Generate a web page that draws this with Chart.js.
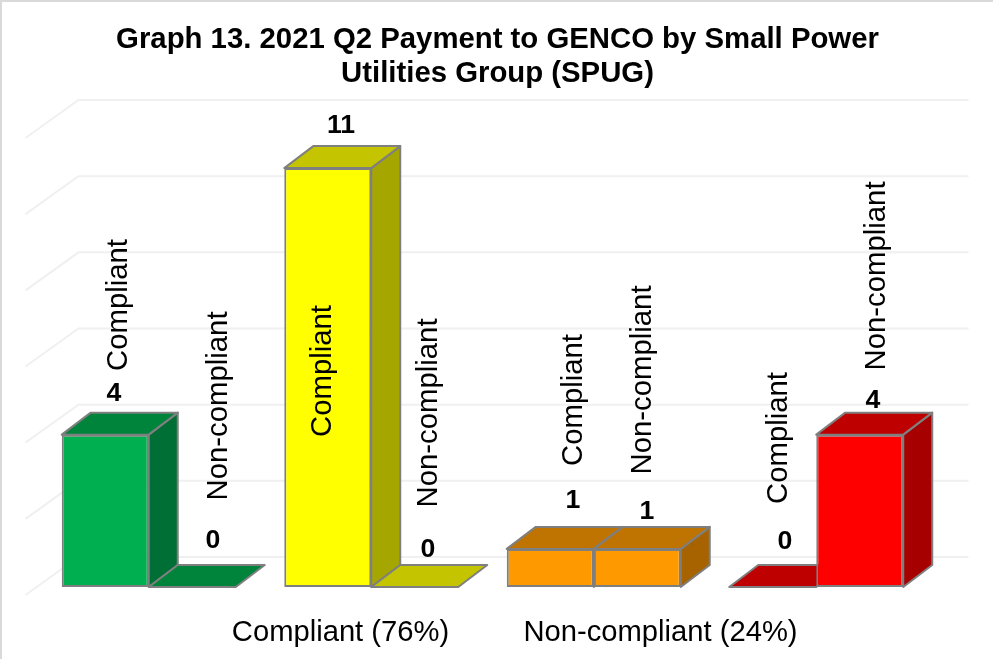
<!DOCTYPE html>
<html>
<head>
<meta charset="utf-8">
<title>Graph 13</title>
<script src="https://cdn.jsdelivr.net/npm/chart.js@4"></script>
<style>
  html, body { margin: 0; padding: 0; background: #fff; }
  canvas { display: block; }
</style>
</head>
<body>
<canvas id="myChart" width="993" height="659"></canvas>
<script>
const categories = ['Compliant paid', 'Compliant late', 'Non-compliant A', 'Non-compliant B'];
const seriesNames = ['Compliant', 'Non-compliant'];
const compliantValues = [4, 11, 1, 0];
const nonCompliantValues = [0, 0, 1, 4];
const gridTicks = [0, 2, 4, 6, 8, 10, 12];
const groupLabels = ['Compliant (76%)', 'Non-compliant (24%)'];
const titleLines = ['Graph 13. 2021 Q2 Payment to GENCO by Small Power', 'Utilities Group (SPUG)'];

// colours for each group: front, top, side
const frontColors = ['#00B050', '#FFFF00', '#FF9900', '#FF0000'];
const topColors = ['#00843C', '#C4C400', '#BF7300', '#BF0000'];
const sideColors = ['#006F35', '#A6A600', '#A66300', '#A60000'];
const edgeColor = '#7F7F7F';

// fake 3d depth of the bars and of the back wall, px
const barDepth = { x: 29, y: 22 };
const wallBack = { x: 41, y: 30 };
const wallFront = { x: 12, y: 8 };

// hand placed labels, the original has them dragged around
const valueLabelPos = [
  [[114, 394], [213, 541]],
  [[341, 126], [428, 550]],
  [[573, 501], [647, 512]],
  [[785, 542], [873, 401]]
];
const nameLabelPos = [
  [[119, 305], [219, 406]],
  [[323, 371], [429, 413]],
  [[574, 400], [643, 380]],
  [[779, 438], [877, 276]]
];
const groupLabelPos = [[340.5, 633], [660.5, 633]];
const titlePos = [[497.5, 40], [497.5, 74]];

function poly(ctx, pts, fill) {
  ctx.beginPath();
  pts.forEach((p, i) => (i ? ctx.lineTo(p[0], p[1]) : ctx.moveTo(p[0], p[1])));
  ctx.closePath();
  ctx.fillStyle = fill;
  ctx.fill();
  ctx.lineWidth = 2;
  ctx.strokeStyle = edgeColor;
  ctx.lineJoin = 'round';
  ctx.stroke();
}

const fake3d = {
  id: 'fake3d',
  beforeDraw(chart) {
    // only the top and left edge of the frame made it into the screenshot
    const ctx = chart.ctx;
    ctx.save();
    ctx.strokeStyle = '#D9D9D9';
    ctx.lineWidth = 2;
    ctx.beginPath();
    ctx.moveTo(1, chart.height);
    ctx.lineTo(1, 1);
    ctx.lineTo(chart.width, 1);
    ctx.stroke();
    ctx.restore();
  },
  beforeDatasetsDraw(chart) {
    const ctx = chart.ctx;
    const yScale = chart.scales.y;
    const area = chart.chartArea;
    ctx.save();
    // back wall lines
    ctx.strokeStyle = '#F0F0F0';
    ctx.lineWidth = 2;
    gridTicks.forEach((t) => {
      const y = yScale.getPixelForValue(t);
      ctx.beginPath();
      ctx.moveTo(area.left - wallFront.x, y + wallFront.y);
      ctx.lineTo(area.left + wallBack.x, y - wallBack.y);
      ctx.lineTo(area.right + wallBack.x, y - wallBack.y);
      ctx.stroke();
    });
    // sides and tops, left to right so the next bar covers the previous one
    categories.forEach((c, i) => {
      chart.data.datasets.forEach((ds, d) => {
        const bar = chart.getDatasetMeta(d).data[i];
        const l = bar.x - bar.width / 2;
        const r = bar.x + bar.width / 2;
        const dx = barDepth.x;
        const dy = barDepth.y;
        if (bar.base - bar.y > 0) {
          poly(ctx, [[r, bar.y], [r + dx, bar.y - dy], [r + dx, bar.base - dy], [r, bar.base]], sideColors[i]);
        }
        poly(ctx, [[l, bar.y], [l + dx, bar.y - dy], [r + dx, bar.y - dy], [r, bar.y]], topColors[i]);
      });
    });
    ctx.restore();
  },
  afterDatasetsDraw(chart) {
    const ctx = chart.ctx;
    ctx.save();
    ctx.fillStyle = '#000';
    ctx.textAlign = 'center';
    ctx.textBaseline = 'middle';
    // title is centred on the whole picture, not on the plot, so it goes here
    ctx.font = 'bold 29.33px "Liberation Sans"';
    titleLines.forEach((t, i) => {
      ctx.fillText(t, titlePos[i][0], titlePos[i][1]);
    });
    categories.forEach((c, i) => {
      chart.data.datasets.forEach((ds, d) => {
        const v = valueLabelPos[i][d];
        ctx.font = 'bold 26.67px "Liberation Sans"';
        ctx.fillText(String(ds.data[i]), v[0], v[1]);
        const n = nameLabelPos[i][d];
        ctx.save();
        ctx.translate(n[0], n[1]);
        ctx.rotate(-Math.PI / 2);
        ctx.font = '29.33px "Liberation Sans"';
        ctx.fillText(ds.label, 0, 0);
        ctx.restore();
      });
    });
    ctx.font = '29.2px "Liberation Sans"';
    groupLabels.forEach((g, i) => {
      ctx.fillText(g, groupLabelPos[i][0], groupLabelPos[i][1]);
    });
    ctx.restore();
  }
};

const ctx = document.getElementById('myChart').getContext('2d');
new Chart(ctx, {
  type: 'bar',
  data: {
    labels: categories,
    datasets: [
      { label: seriesNames[0], data: compliantValues },
      { label: seriesNames[1], data: nonCompliantValues }
    ].map((ds) => ({
      ...ds,
      backgroundColor: frontColors,
      borderColor: edgeColor,
      borderWidth: 2,
      borderSkipped: false,
      categoryPercentage: 0.782,
      barPercentage: 1
    }))
  },
  options: {
    responsive: false,
    animation: false,
    layout: { padding: { left: 37.5, right: 65.5, top: 130, bottom: 72 } },
    plugins: {
      legend: { display: false },
      tooltip: { enabled: false },
      title: { display: false }
    },
    scales: {
      x: { display: false },
      y: { display: false, min: 0, max: 12 }
    }
  },
  plugins: [fake3d]
});
</script>
</body>
</html>
